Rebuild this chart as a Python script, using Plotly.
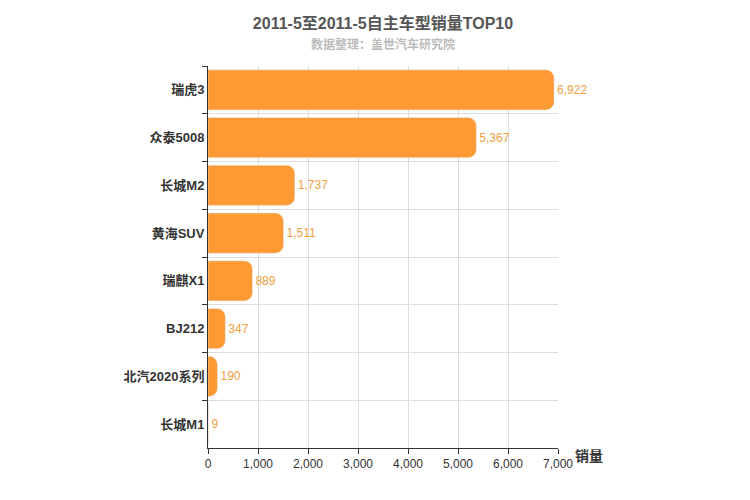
import plotly.graph_objects as go

categories = ["瑞虎3", "众泰5008", "长城M2", "黄海SUV", "瑞麒X1", "BJ212", "北汽2020系列", "长城M1"]
values = [6922, 5367, 1737, 1511, 889, 347, 190, 9]
x_ticks = [0, 1000, 2000, 3000, 4000, 5000, 6000, 7000]

fig = go.Figure(go.Bar(
    y=[f"<b>{c}</b>" for c in categories], x=values, orientation="h",
    marker=dict(color="#ff9933", cornerradius=8),
    width=0.84,
    text=[f"{v:,}" for v in values], textposition="outside",
    textfont=dict(color="#f0a040", size=12), cliponaxis=False,
))
fig.update_layout(
    width=750, height=500, plot_bgcolor="white", paper_bgcolor="white",
    margin=dict(l=200, r=200, t=58, b=60, autoexpand=False),
    font=dict(family="Liberation Sans, Noto Sans CJK SC", size=12, color="#333"),
    title=dict(text="<b>2011-5至2011-5自主车型销量TOP10</b>", x=0.5, y=0.97, yanchor="middle",
               xanchor="center", yref="container", font=dict(size=16, color="#555")),
    showlegend=False,
    annotations=[
        dict(text="<b>数据整理：盖世汽车研究院</b>", x=0.5, y=1, xref="paper", yref="paper", yanchor="bottom",
             yshift=12, showarrow=False, font=dict(size=12, color="#bbb")),
        dict(text="<b>销量</b>", x=1, y=0, xref="paper", yref="paper", xanchor="left", yanchor="top",
             xshift=15, yshift=2, showarrow=False, font=dict(size=14, color="#333")),
    ],
)
fig.update_xaxes(range=[0, 7000], tickvals=x_ticks, tickformat=",", showgrid=True, gridcolor="#ddd",
                 ticks="outside", tickcolor="#333", showline=True, linecolor="#333", zeroline=False,
                 automargin=False)
fig.update_yaxes(autorange="reversed", tickson="boundaries", showgrid=True, gridcolor="#ddd",
                 ticks="outside", tickcolor="#333", showline=True, linecolor="#333",
                 tickfont=dict(size=13, color="#333"), automargin=False)
fig.write_html("out.html")
